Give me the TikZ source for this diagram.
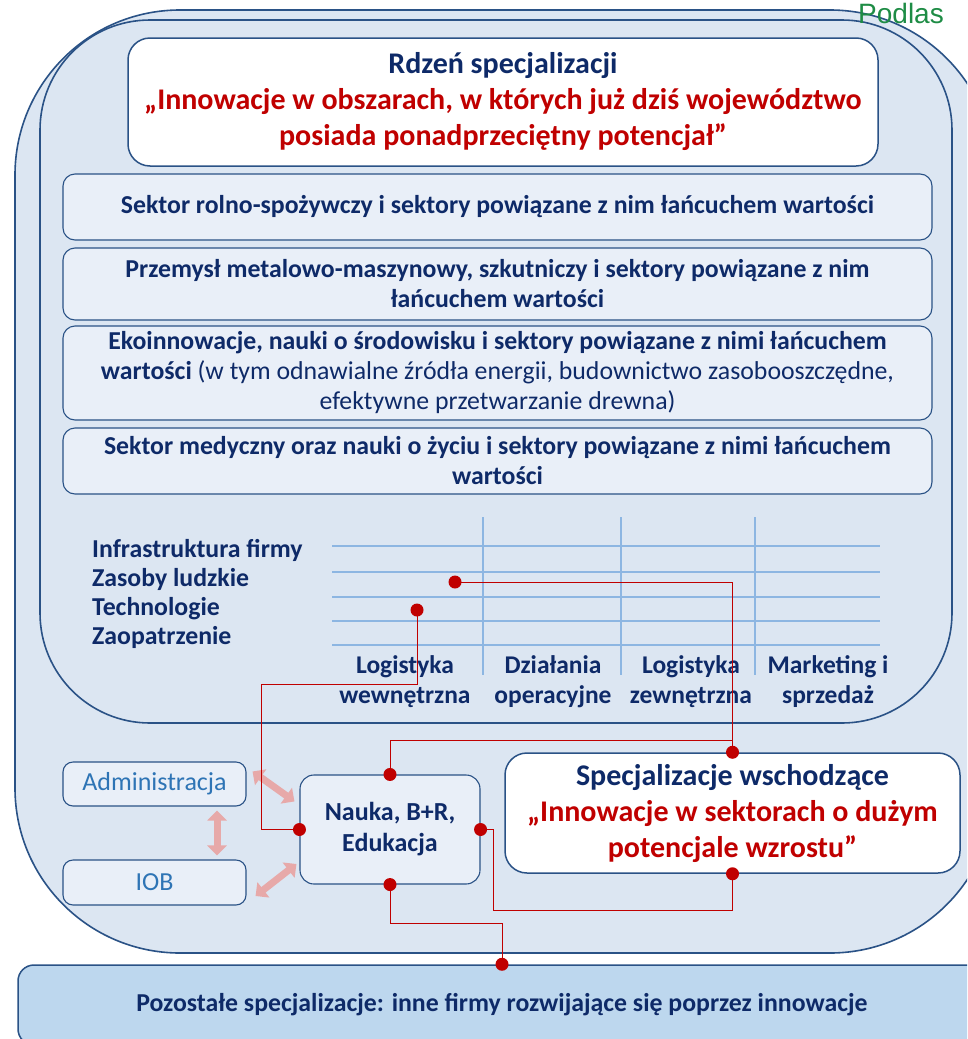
\documentclass[tikz,border=0pt]{standalone}
\usepackage{fontspec}
\setmainfont{Carlito}
\newfontfamily\podfont{Liberation Sans}
\usetikzlibrary{arrows.meta}

\definecolor{panelfill}{HTML}{DCE6F2}
\definecolor{sectorfill}{HTML}{E9EFF8}
\definecolor{restfill}{HTML}{BDD7EE}
\definecolor{rim}{HTML}{2A5286}
\definecolor{textnavy}{HTML}{0E2A68}
\definecolor{innovred}{HTML}{C00000}
\definecolor{labelblue}{HTML}{2E74B5}
\definecolor{gridblue}{HTML}{8DB6E2}
\definecolor{linkred}{HTML}{C00000}
\definecolor{hatchred}{HTML}{E7A9A9}
\definecolor{podgreen}{HTML}{1E8C45}

\tikzset{
    panel/.style={draw=rim, line width=1.6pt, fill=panelfill},
    whitebox/.style={draw=rim, line width=1.5pt, fill=white, rounded corners=22pt, align=center, text=innovred, font=\bfseries\fontsize{30}{36}\selectfont},
    sectorbox/.style={draw=rim, line width=1.1pt, fill=sectorfill, rounded corners=12pt, minimum width=869pt, align=center, text=textnavy, font=\bfseries\fontsize{25.8}{30}\selectfont},
    smallbox/.style={draw=rim, line width=1.1pt, fill=sectorfill, rounded corners=14pt, align=center},
    chaintext/.style={align=center, text=textnavy, font=\bfseries\fontsize{25.5}{30}\selectfont, inner sep=0pt},
    gridline/.style={draw=gridblue, line width=1.2pt},
    link/.style={draw=linkred, line width=1pt},
    hatcharrow/.style={draw=hatchred, line width=7pt, {Triangle[length=10pt,width=19pt]}-{Triangle[length=10pt,width=19pt]}}
}

\begin{document}
\begin{tikzpicture}[x=1pt, y=-1pt, auto]
    \useasboundingbox (0,0) rectangle (967,1039);
    \clip (0,0) rectangle (967,1039);

    \draw[panel, rounded corners=165pt] (15,10) rectangle (995,953);
    \draw[panel, rounded corners=110pt] (40,20) rectangle (952,723);

    \node (podl) [anchor=base west, inner sep=0pt, text=podgreen, font=\podfont\fontsize{28}{32}\selectfont] at (858,23) {Podlas};

    \node (core) [whitebox, minimum width=750pt, minimum height=128pt] at (503,102) {{\color{textnavy}Rdzeń specjalizacji}\\„Innowacje w obszarach, w których już dziś województwo\\posiada ponadprzeciętny potencjał”};

    \node (agro) [sectorbox, minimum height=66pt] at (497.5,207) {Sektor rolno-spożywczy i sektory powiązane z nim łańcuchem wartości};
    \node (metal) [sectorbox, minimum height=72pt] at (497.5,284) {Przemysł metalowo-maszynowy, szkutniczy i sektory powiązane z nim\\łańcuchem wartości};
    \node (eco) [sectorbox, minimum height=94pt] at (497.5,373) {Ekoinnowacje, nauki o środowisku i sektory powiązane z nimi łańcuchem\\wartości {\mdseries (w tym odnawialne źródła energii, budownictwo zasobooszczędne,}\\{\mdseries efektywne przetwarzanie drewna)}};
    \node (med) [sectorbox, minimum height=66pt] at (497.5,461) {Sektor medyczny oraz nauki o życiu i sektory powiązane z nimi łańcuchem\\wartości};

    \foreach \y in {546,572,597,621,645}
        \draw[gridline] (332,\y) -- (880,\y);
    \foreach \x in {483,621,755}
        \draw[gridline] (\x,517) -- (\x,675);

    \node (support) [chaintext, anchor=west, align=left, font=\bfseries\fontsize{25.8}{29}\selectfont] at (92,594) {Infrastruktura firmy\\Zasoby ludzkie\\Technologie\\Zaopatrzenie};
    \node (inlog) [chaintext] at (405,682) {Logistyka\\wewnętrzna};
    \node (ops) [chaintext, right of=inlog, node distance=148pt] {Działania\\operacyjne};
    \node (outlog) [chaintext, right of=ops, node distance=138pt] {Logistyka\\zewnętrzna};
    \node (sales) [chaintext, right of=outlog, node distance=137pt] {Marketing i\\sprzedaż};

    \coordinate (dotA) at (455,582);
    \coordinate (dotB) at (417,610);

    \node (emerg) [whitebox, minimum width=455pt, minimum height=120pt] at (732.5,813) {{\color{textnavy}Specjalizacje wschodzące}\\„Innowacje w sektorach o dużym\\potencjale wzrostu”};
    \node (science) [smallbox, minimum width=180pt, minimum height=109pt, text=textnavy, font=\bfseries\fontsize{26}{31}\selectfont] at (390,829.5) {Nauka, B+R,\\Edukacja};
    \node (admin) [smallbox, minimum width=183pt, minimum height=44pt, rounded corners=10pt, text=labelblue, font=\fontsize{26}{28}\selectfont] at (154.5,784) {Administracja};
    \node (iob) [smallbox, minimum width=183pt, minimum height=45pt, rounded corners=10pt, text=labelblue, font=\fontsize{26}{28}\selectfont] at (154.5,882.5) {IOB};
    \node (rest) [draw=rim, line width=1.5pt, fill=restfill, rounded corners=16pt, minimum width=968pt, minimum height=80pt, text=textnavy, font=\bfseries\fontsize{25.8}{28}\selectfont] at (502,1005) {Pozostałe specjalizacje: inne firmy rozwijające się poprzez innowacje};

    \draw[hatcharrow] ([shift={(6,10)}]admin.north east) -- ([shift={(-5,27)}]science.north west);
    \draw[hatcharrow, shorten <=4pt, shorten >=4pt] ([xshift=62.5pt]admin.south) -- ([xshift=62.5pt]iob.north);
    \draw[hatcharrow] ([shift={(9,13.5)}]iob.east) -- ([shift={(-3,34.5)}]science.west);

    \draw[link] (dotA) -| (emerg.north);
    \draw[link] (dotB) -- ++(0,74) -| ([xshift=-38pt]science.west) -- (science.west);
    \draw[link] (science.north) -- ++(0,-34) -| (emerg.north);
    \draw[link] (science.east) -- ++(13,0) |- ([yshift=-37pt]emerg.south) -- (emerg.south);
    \draw[link] (science.south) -- ++(0,39) -| (rest.north);
    \foreach \p in {dotA, dotB, science.north, science.west, science.east, science.south, emerg.north, emerg.south, rest.north}
        \fill[linkred] (\p) circle (6.5pt);
\end{tikzpicture}
\end{document}
